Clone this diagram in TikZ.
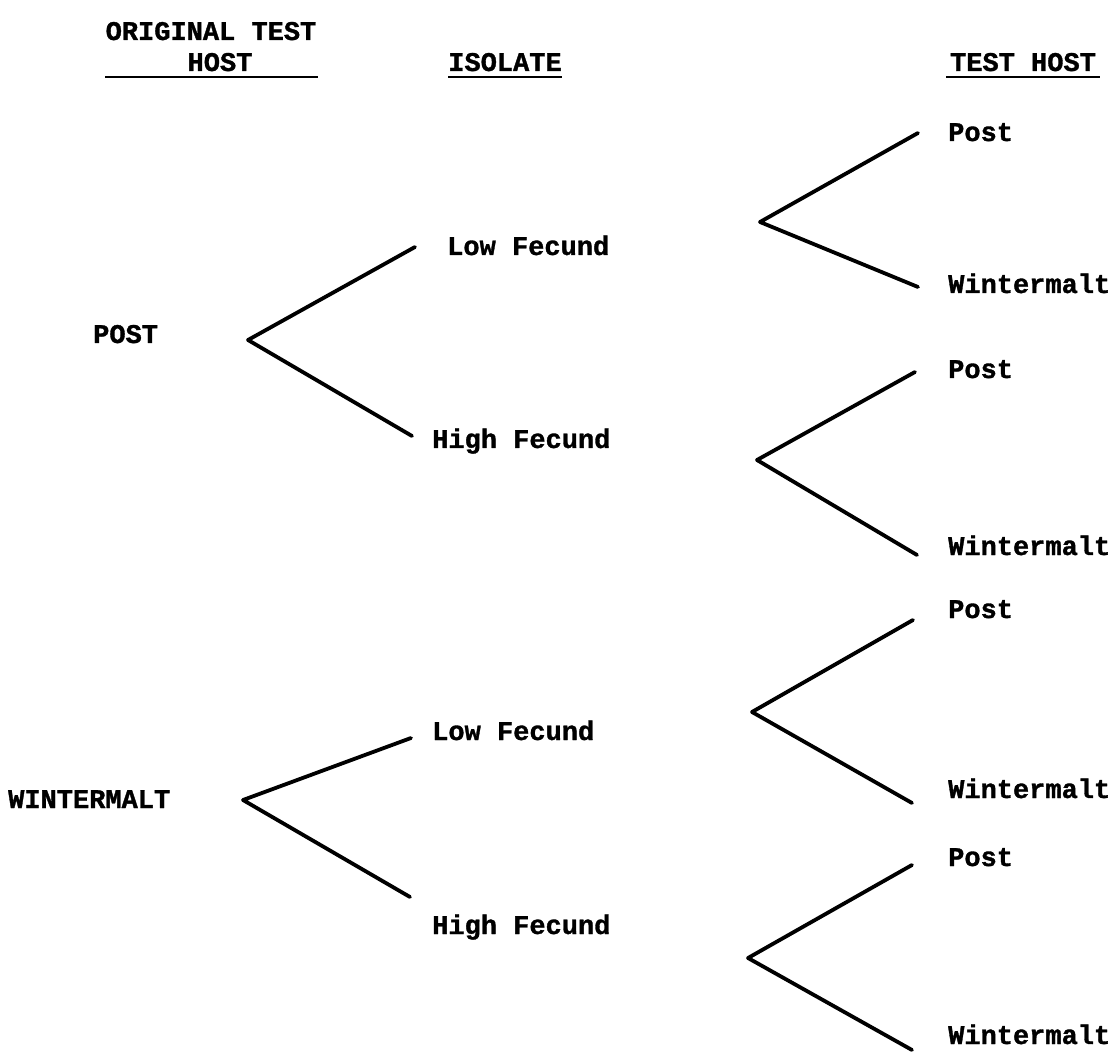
\documentclass[tikz,border=0pt]{standalone}
\usepackage{fontspec}
\setmonofont[BoldFeatures={FakeBold=1.2}]{Liberation Mono}
\begin{document}
\begin{tikzpicture}[x=1pt,y=-1pt,
  lbl/.style={anchor=base west,inner sep=0pt,font=\fontsize{27}{30}\selectfont\ttfamily\bfseries},
  hdr/.style={anchor=base,inner sep=0pt,font=\fontsize{27}{30}\selectfont\ttfamily\bfseries},
  branch/.style={line width=3.8pt,line cap=round,line join=round},
  uline/.style={line width=2.2pt}]
\useasboundingbox[fill=white] (0,0) rectangle (1114,1056);
% headers
\node[hdr] (h1a) at (211,40) {ORIGINAL TEST};
\node[hdr] (h1b) at (220,71) {HOST};
\node[hdr] (h2) at (505,71) {ISOLATE};
\node[hdr] (h3) at (1023,71) {TEST HOST};
\coordinate (u1a) at (105,77); \coordinate (u1b) at (318,77);
\coordinate (u2a) at (448,77); \coordinate (u2b) at (562,77);
\coordinate (u3a) at (946,77); \coordinate (u3b) at (1100,77);
\draw[uline] (u1a) -- (u1b);
\draw[uline] (u2a) -- (u2b);
\draw[uline] (u3a) -- (u3b);
% original hosts
\node[lbl] (post) at (93,343) {POST};
\node[lbl] (wint) at (8,808) {WINTERMALT};
% isolates
\node[lbl] (lf1) at (447,255) {Low Fecund};
\node[lbl] (hf1) at (432,448) {High Fecund};
\node[lbl] (lf2) at (432,740) {Low Fecund};
\node[lbl] (hf2) at (432,934) {High Fecund};
% test hosts
\node[lbl] (p1) at (948,141) {Post};
\node[lbl] (w1) at (948,293) {Wintermalt};
\node[lbl] (p2) at (948,378) {Post};
\node[lbl] (w2) at (948,555) {Wintermalt};
\node[lbl] (p3) at (948,618) {Post};
\node[lbl] (w3) at (948,798) {Wintermalt};
\node[lbl] (p4) at (948,866) {Post};
\node[lbl] (w4) at (948,1044) {Wintermalt};
% fork coordinates
\coordinate (a1) at (248,340); \coordinate (a1u) at (415,247); \coordinate (a1d) at (412,436);
\coordinate (a2) at (243,800); \coordinate (a2u) at (411,738); \coordinate (a2d) at (410,897);
\coordinate (b1) at (760,222); \coordinate (b1u) at (918,133); \coordinate (b1d) at (918,287);
\coordinate (b2) at (757,460); \coordinate (b2u) at (915,372); \coordinate (b2d) at (917,555);
\coordinate (b3) at (752,712); \coordinate (b3u) at (913,620); \coordinate (b3d) at (912,803);
\coordinate (b4) at (748,958); \coordinate (b4u) at (912,865); \coordinate (b4d) at (912,1050);
\draw[branch] (a1u) -- (a1) -- (a1d);
\draw[branch] (a2u) -- (a2) -- (a2d);
\draw[branch] (b1u) -- (b1) -- (b1d);
\draw[branch] (b2u) -- (b2) -- (b2d);
\draw[branch] (b3u) -- (b3) -- (b3d);
\draw[branch] (b4u) -- (b4) -- (b4d);
\end{tikzpicture}
\end{document}
